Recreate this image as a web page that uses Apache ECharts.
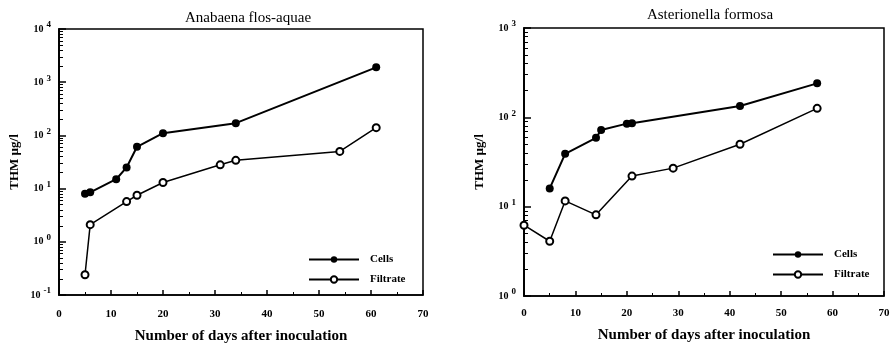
<!DOCTYPE html>
<html>
<head>
<meta charset="utf-8">
<script src="https://cdn.jsdelivr.net/npm/echarts@6/dist/echarts.min.js"></script>
<style>
  html, body { margin: 0; padding: 0; background: #fff; }
  #chart { width: 894px; height: 349px; }
</style>
</head>
<body>
<div id="chart"></div>
<script>
// Anabaena flos-aquae
const anabaenaCellsDays = [5, 6, 11, 13, 15, 20, 34, 61];
const anabaenaCellsThm = [8, 8.5, 15, 25, 61, 110, 170, 1900];
const anabaenaFiltrateDays = [5, 6, 13, 15, 20, 31, 34, 54, 61];
const anabaenaFiltrateThm = [0.24, 2.1, 5.7, 7.5, 13, 28, 34, 50, 140];

// Asterionella formosa
const asterCellsDays = [5, 8, 14, 15, 20, 21, 42, 57];
const asterCellsThm = [16, 39, 59, 72, 85, 86, 134, 240];
const asterFiltrateDays = [0, 5, 8, 14, 21, 29, 42, 57];
const asterFiltrateThm = [6.2, 4.1, 11.6, 8.1, 22, 27, 50, 126];

const titles = ['Anabaena flos-aquae', 'Asterionella formosa'];
const seriesNames = ['Cells', 'Filtrate'];
const yLabel = 'THM µg/l';
const xLabel = 'Number of days after inoculation';

const FONT = '"Liberation Serif", "DejaVu Serif", serif';

const pairs = (xs, ys) => xs.map((x, i) => [x, ys[i]]);

// log-spaced minor ticks (2..9 in each decade), in log10 units
function minorLogTicks(lo, hi) {
  const out = [];
  for (let e = lo; e < hi; e++) {
    for (let k = 2; k <= 9; k++) out.push(e + Math.log10(k));
  }
  return out;
}

const grids = [
  { left: 59, right: 471, top: 29, bottom: 47 },
  { left: 524, right: 10, top: 28, bottom: 53 }
];
const yRanges = [[-1, 4], [0, 3]];
const xLabelMargin = [14, 12];
const xNameGap = [34, 32];

const chart = echarts.init(document.getElementById('chart'));

const xAxes = [], yAxes = [], series = [];
grids.forEach((g, i) => {
  g.show = true;
  g.borderColor = '#000';
  g.borderWidth = 1.5;
  xAxes.push({
    type: 'value', gridIndex: i, min: 0, max: 70, interval: 10,
    name: xLabel, nameLocation: 'middle', nameGap: xNameGap[i],
    nameTextStyle: { fontFamily: FONT, fontWeight: 'bold', fontSize: 15, color: '#000' },
    axisLine: { onZero: false, lineStyle: { color: '#000', width: 1.5 } },
    axisTick: { inside: true, length: 5, lineStyle: { color: '#000', width: 1.5 } },
    minorTick: { show: true, splitNumber: 2, length: 3, lineStyle: { color: '#000' } },
    axisLabel: { fontFamily: FONT, fontWeight: 'bold', fontSize: 11, color: '#000', margin: xLabelMargin[i] },
    splitLine: { show: false }
  });
  const [lo, hi] = yRanges[i];
  yAxes.push({
    type: 'log', logBase: 10, gridIndex: i, min: Math.pow(10, lo), max: Math.pow(10, hi),
    name: yLabel, nameLocation: 'middle', nameGap: 38,
    nameTextStyle: { fontFamily: FONT, fontWeight: 'bold', fontSize: 13, color: '#000' },
    axisLine: { onZero: false, lineStyle: { color: '#000', width: 1.5 } },
    axisTick: { show: true, inside: true, length: 7, lineStyle: { color: '#000', width: 1.5 } },
    axisLabel: {
      color: '#000', margin: 8,
      formatter: v => '{b|10}{s|' + Math.round(Math.log10(v)) + '}',
      rich: {
        b: { fontFamily: FONT, fontWeight: 'bold', fontSize: 10, color: '#000' },
        s: { fontFamily: FONT, fontWeight: 'bold', fontSize: 9, color: '#000', verticalAlign: 'top', padding: [0, 0, 8, 3] }
      }
    },
    splitLine: { show: false }
  });
  // minor log ticks drawn on an overlaid linear axis in log10 units
  yAxes.push({
    type: 'value', gridIndex: i, min: lo, max: hi, position: 'left',
    axisLine: { show: true, onZero: false, lineStyle: { color: '#000', width: 1.5 } },
    axisLabel: { show: false },
    splitLine: { show: false },
    axisTick: {
      show: true, inside: true, length: 4,
      customValues: minorLogTicks(lo, hi),
      lineStyle: { color: '#000', width: 1 }
    }
  });
});

const dataSets = [
  [pairs(anabaenaCellsDays, anabaenaCellsThm), pairs(anabaenaFiltrateDays, anabaenaFiltrateThm)],
  [pairs(asterCellsDays, asterCellsThm), pairs(asterFiltrateDays, asterFiltrateThm)]
];

dataSets.forEach((sets, i) => {
  series.push({
    name: seriesNames[0], type: 'line', xAxisIndex: i, yAxisIndex: i * 2,
    data: sets[0], symbol: 'circle', symbolSize: 8,
    itemStyle: { color: '#000' }, lineStyle: { color: '#000', width: 2 }
  });
  series.push({
    name: seriesNames[1], type: 'line', xAxisIndex: i, yAxisIndex: i * 2,
    data: sets[1], symbol: 'emptyCircle', symbolSize: 7,
    itemStyle: { color: '#000', borderWidth: 1.5 },
    lineStyle: { color: '#000', width: 1.5 }
  });
});

const legendBase = {
  orient: 'vertical', itemWidth: 50, itemHeight: 8, itemGap: 9,
  textStyle: { fontFamily: FONT, fontWeight: 'bold', fontSize: 11, color: '#000', padding: [0, 0, 0, 6] },
  data: seriesNames
};

chart.setOption({
  animation: false,
  backgroundColor: '#fff',
  title: [
    { text: titles[0], left: 243, top: 6, textAlign: 'center',
      textStyle: { fontFamily: FONT, fontWeight: 'normal', fontSize: 15, color: '#000' } },
    { text: titles[1], left: 705, top: 3, textAlign: 'center',
      textStyle: { fontFamily: FONT, fontWeight: 'normal', fontSize: 15, color: '#000' } }
  ],
  legend: [
    Object.assign({ left: 303, top: 249 }, legendBase),
    Object.assign({ left: 767, top: 244 }, legendBase)
  ],
  grid: grids,
  xAxis: xAxes,
  yAxis: yAxes,
  series: series
});
</script>
</body>
</html>
